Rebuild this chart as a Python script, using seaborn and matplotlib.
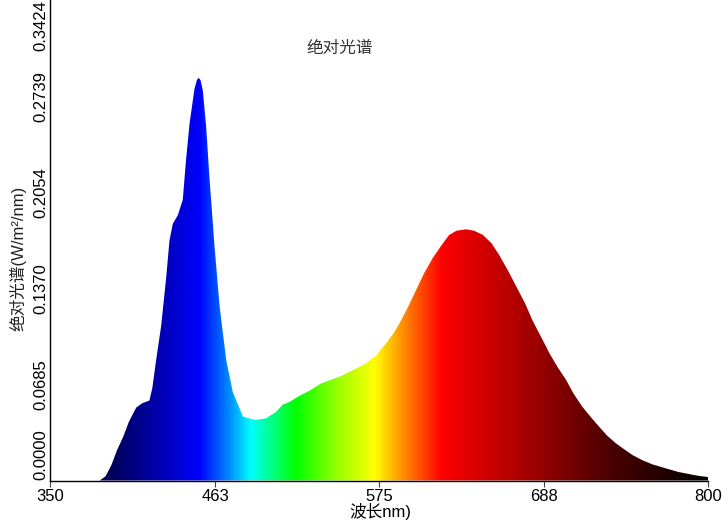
import matplotlib
matplotlib.use("Agg")
import matplotlib.pyplot as plt
import numpy as np
import pandas as pd
import seaborn as sns
from matplotlib.colors import LinearSegmentedColormap

# ---------------------------------------------------------------------------
# Spectrum
# ---------------------------------------------------------------------------
wavelength = [350, 380, 384, 388, 392, 396, 400, 404, 409, 413, 418, 420,
              422.6, 426, 429.5, 431.7, 434, 437.4, 440.8, 443, 445.4, 448.8,
              450.5, 451.8, 453, 454.5, 456.8, 459, 462.5, 466, 470.5, 475,
              482, 488.7, 491, 497.8, 504.7, 509, 513.8, 520, 527.5, 535, 548,
              558, 566, 573, 580, 585, 589, 595, 600.5, 606, 612, 618, 623,
              628, 634.6, 640, 646, 652, 657, 663, 669, 675, 680, 686, 691.6,
              697, 703, 708, 714, 720, 725.8, 731, 737, 743, 748.6, 755, 762,
              771, 780, 794, 800]
irradiance = [0.0, 0.0, 0.0, 0.003, 0.011, 0.022, 0.031, 0.042, 0.052, 0.055,
              0.057, 0.066, 0.086, 0.110, 0.145, 0.171, 0.183, 0.189, 0.200,
              0.228, 0.254, 0.279, 0.2855, 0.287, 0.285, 0.278, 0.252, 0.2165,
              0.167, 0.124, 0.086, 0.063, 0.0455, 0.0436, 0.0433, 0.0443,
              0.049, 0.054, 0.056, 0.060, 0.064, 0.069, 0.074, 0.079, 0.0835,
              0.089, 0.098, 0.105, 0.112, 0.124, 0.136, 0.148, 0.159, 0.168,
              0.175, 0.178, 0.179, 0.178, 0.175, 0.169, 0.161, 0.150, 0.138,
              0.126, 0.114, 0.102, 0.0906, 0.081, 0.0716, 0.062, 0.0526,
              0.045, 0.038, 0.032, 0.0265, 0.022, 0.018, 0.0145, 0.0115,
              0.0087, 0.006, 0.0032, 0.0025]

x_ticks = [350, 463, 575, 688, 800]
y_ticks = [0.0000, 0.0685, 0.1370, 0.2054, 0.2739, 0.3424]

# colour stops of the spectral fill (nm -> colour)
stop_nm = [350, 380, 400, 430, 452, 475, 487, 500, 518, 545, 572, 594,
           618, 680, 730, 800]
stop_colors = ["#000030", "#000040", "#000070", "#0000c0", "#0000ff",
               "#00a0ff", "#00ffff", "#00ff90", "#00ff00", "#90ff00",
               "#ffff00", "#ff8000", "#ff0000", "#a00000", "#500000",
               "#000000"]

sns.set_theme(style="white")
plt.rcParams["font.family"] = ["Liberation Sans", "Noto Sans CJK SC"]

fig = plt.figure(figsize=(7.28, 5.2), dpi=100)
ax = fig.add_axes([50 / 728, 1 - 480.5 / 520, 658 / 728, 480.5 / 520])

df = pd.DataFrame({"wavelength": wavelength, "irradiance": irradiance})
sns.lineplot(data=df, x="wavelength", y="irradiance", ax=ax,
             color="white", linewidth=0, errorbar=None)

# gradient image clipped by the area under the curve
lo, hi = stop_nm[0], stop_nm[-1]
cmap = LinearSegmentedColormap.from_list(
    "spectrum", [((n - lo) / (hi - lo), c) for n, c in zip(stop_nm, stop_colors)], N=512)
grad = np.linspace(lo, hi, 900).reshape(1, -1)
im = ax.imshow(grad, extent=[lo, hi, 0, y_ticks[-1]], aspect="auto",
               cmap=cmap, vmin=lo, vmax=hi, origin="lower")
area = ax.fill_between(df["wavelength"], df["irradiance"], 0,
                       facecolor="none", edgecolor="none")
im.set_clip_path(area.get_paths()[0], transform=ax.transData)

ax.set_xlim(350, 800)
ax.set_ylim(0, y_ticks[-1])
ax.set_xticks(x_ticks)
ax.set_xticklabels([str(v) for v in x_ticks])
ax.set_yticks(y_ticks)
ylabels = ax.set_yticklabels([f"{v:.4f}" for v in y_ticks], rotation=90, va="center")
ylabels[0].set_va("bottom")
ylabels[-1].set_va("top")

ax.tick_params(axis="x", bottom=True, length=4, width=0.8, color="#444444",
               pad=2, labelsize=12, labelcolor="black")
ax.tick_params(axis="y", left=True, length=0, pad=1, labelsize=12,
               labelcolor="black")
ax.set_xlabel("")
ax.set_ylabel("")
sns.despine(ax=ax)
for side in ("left", "bottom"):
    ax.spines[side].set_color("black")
    ax.spines[side].set_linewidth(1.0)

fig.text(340 / 728, 1 - 48 / 520, "绝对光谱", ha="center", va="center",
         fontsize=12, color="#333333")
fig.text(18 / 728, 1 - 258 / 520, "绝对光谱(W/m²/nm)", rotation=90,
         ha="center", va="center", fontsize=12, color="#222222")
fig.text(380 / 728, 1 - 511 / 520, "波长nm)", ha="center", va="center",
         fontsize=12, color="black")

fig.savefig("out.png", dpi=100)
